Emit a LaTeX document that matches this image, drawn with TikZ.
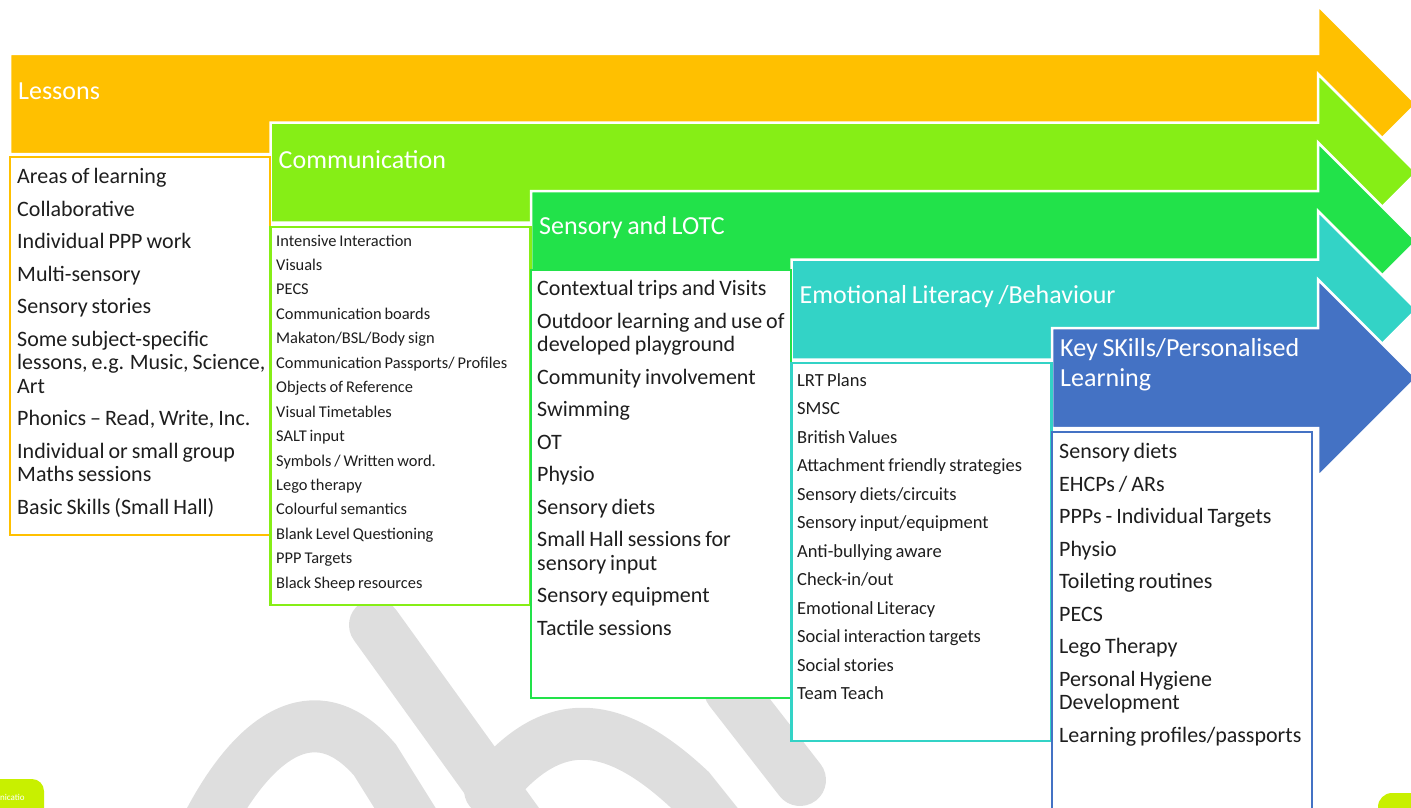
\documentclass[tikz,border=0pt]{standalone}
\usepackage{fontspec}
\setmainfont{Carlito}[WordSpace=0.8]

\definecolor{lessonsorange}{HTML}{FFC000}
\definecolor{commlime}{HTML}{86EE16}
\definecolor{sensorygreen}{HTML}{22E24A}
\definecolor{emoteal}{HTML}{33D3C6}
\definecolor{keyblue}{HTML}{4472C4}
\definecolor{wmgray}{HTML}{DEDEDE}
\definecolor{cornerlime}{HTML}{C8F000}
\definecolor{itemtext}{HTML}{1E1E1E}

\begin{document}
\begin{tikzpicture}[x=1pt,y=-1pt,
    arrowshape/.style={draw=white,line width=2.5pt,line join=miter},
    listbox/.style={fill=white,line width=2.5pt},
    headtext/.style={text=white,anchor=west,align=left,inner sep=0pt,font=\fontsize{26}{30}\selectfont},
    bigitems/.style={anchor=north west,inner sep=0pt,align=left,text=itemtext,font=\fontsize{22}{23.5}\selectfont},
    smallitem/.style={anchor=base west,inner sep=0pt,text=itemtext},
    wm/.style={draw=wmgray,line width=52pt,line cap=round}]
    \useasboundingbox (0,0) rectangle (1411,808);
    \begin{scope}
        \clip (0,0) rectangle (1411,808);

        % watermark behind everything
        \draw[wm] (200,840) .. controls (250,735) and (315,690) .. (375,760) -- (425,840);
        \draw[wm] (375,625) -- (530,840);
        \draw[wm] (490,790) .. controls (550,715) and (610,715) .. (690,790) -- (730,840);
        \draw[wm] (730,690) -- (800,780);

        % the five arrows
        \foreach \k/\col/\name/\title in {0/lessonsorange/lessons/Lessons,
                1/commlime/comm/Communication,
                2/sensorygreen/sensory/{Sensory and LOTC},
                3/emoteal/emo/{Emotional Literacy /Behaviour},
                4/keyblue/key/{Key SKills/Personalised\\Learning}} {
            \pgfmathsetmacro\xo{10+260.5*\k}
            \pgfmathsetmacro\yo{54+68.5*\k}
            \draw[arrowshape,fill=\col] (\xo,\yo) -- (1318,\yo) -- (1318,{\yo-48.5})
                -- (1416.5,{\yo+50}) -- (1318,{\yo+148.5}) -- (1318,{\yo+100})
                -- (\xo,{\yo+100}) -- cycle;
            \node[headtext] (\name-head) at ({\xo+8},{\yo+37}) {\title};
        }

        % list boxes
        \foreach \xo/\ytop/\ybot/\col in {10/157/535/lessonsorange,
                270.5/227/605/commlime,
                531/270/698/sensorygreen,
                791.5/363/741/emoteal,
                1052/432/830/keyblue} {
            \draw[listbox,draw=\col] (\xo,\ytop) rectangle ++(260,{\ybot-\ytop});
        }

        % lists
        \node[bigitems] (lessons-list) at (17,167) {\strut Areas of learning\\[9pt]
            Collaborative\\[9pt]
            Individual PPP work\\[9pt]
            Multi-sensory\\[9pt]
            Sensory stories\\[9pt]
            Some subject-specific\\lessons, e.g. Music, Science,\\Art\\[9pt]
            Phonics – Read, Write, Inc.\\[9pt]
            Individual or small group\\Maths sessions\\[9pt]
            Basic Skills (Small Hall)};

        \foreach \txt [count=\i] in {Intensive Interaction, Visuals, PECS,
                Communication boards, Makaton/BSL/Body sign,
                Communication Passports/ Profiles, Objects of Reference,
                Visual Timetables, SALT input, Symbols / Written word.,
                Lego therapy, Colourful semantics, Blank Level Questioning,
                PPP Targets, Black Sheep resources} {
            \node[smallitem,font=\fontsize{16.4}{19}\selectfont] (comm-\i) at (276,{246+24.45*(\i-1)}) {\txt};
        }

        \node[bigitems] (sensory-list) at (537,279) {\strut Contextual trips and Visits\\[9pt]
            Outdoor learning and use of\\developed playground\\[9pt]
            Community involvement\\[9pt]
            Swimming\\[9pt]
            OT\\[9pt]
            Physio\\[9pt]
            Sensory diets\\[9pt]
            Small Hall sessions for\\sensory input\\[9pt]
            Sensory equipment\\[9pt]
            Tactile sessions};

        \foreach \txt [count=\i] in {LRT Plans, SMSC, British Values,
                Attachment friendly strategies, Sensory diets/circuits,
                Sensory input/equipment, Anti-bullying aware, Check-in/out,
                Emotional Literacy, Social interaction targets, Social stories,
                Team Teach} {
            \node[smallitem,font=\fontsize{18.5}{21}\selectfont] (emo-\i) at (797,{386+28.5*(\i-1)}) {\txt};
        }

        \node[bigitems] (key-list) at (1059,442) {\strut Sensory diets\\[9pt]
            EHCPs / ARs\\[9pt]
            PPPs - Individual Targets\\[9pt]
            Physio\\[9pt]
            Toileting routines\\[9pt]
            PECS\\[9pt]
            Lego Therapy\\[9pt]
            Personal Hygiene\\Development\\[9pt]
            Learning profiles/passports};

        % corner tabs
        \fill[cornerlime,rounded corners=12pt] (-20,779) rectangle (44,830);
        \node[text=white,anchor=west,inner sep=0pt,font=\fontsize{9}{10}\selectfont] (corner-tab) at (0,797) {nicatio};
        \fill[cornerlime,rounded corners=14pt] (1378,793) rectangle (1440,840);
    \end{scope}
\end{tikzpicture}
\end{document}
